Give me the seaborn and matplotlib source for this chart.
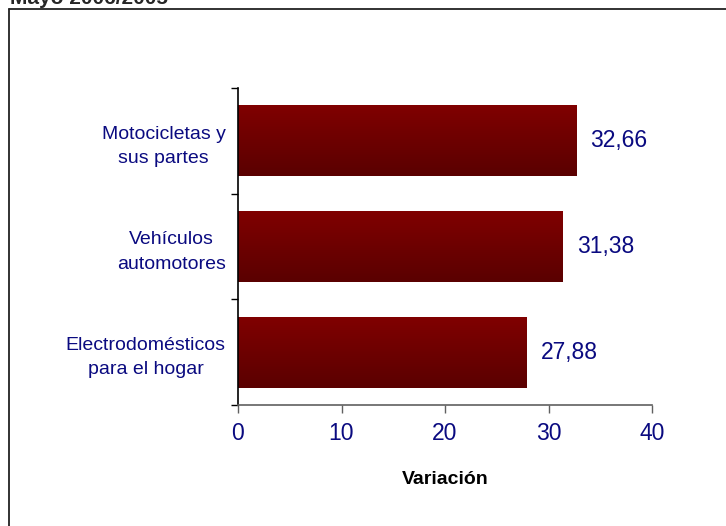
import numpy as np
import pandas as pd
import matplotlib
matplotlib.use("Agg")
import matplotlib.pyplot as plt
from matplotlib.lines import Line2D
import seaborn as sns

# Datos
categorias = ["Motocicletas y\nsus partes", "Vehículos\nautomotores", "Electrodomésticos\npara el hogar"]
variacion = [32.66, 31.38, 27.88]
x_ticks = [0, 10, 20, 30, 40]
titulo = "Mayo 2006/2005"

df = pd.DataFrame({"Categoria": categorias, "Variacion": variacion})

sns.set_style("white")
plt.rcParams["font.family"] = ["Liberation Sans", "DejaVu Sans"]

azul = "#0a0a80"

fig = plt.figure(figsize=(7.26, 5.26), dpi=100)
ax = fig.add_axes([238 / 726, 1 - 405 / 526, (652 - 238) / 726, (405 - 88) / 526])

sns.barplot(data=df, x="Variacion", y="Categoria", color="#800000", width=0.67,
            saturation=1, ax=ax)

# degradado en las barras
grad = np.linspace(0, 1, 256).reshape(-1, 1)
cmap = matplotlib.colors.LinearSegmentedColormap.from_list("rojo", ["#800000", "#5a0000"])
for p in ax.patches:
    x0, y0 = p.get_x(), p.get_y()
    w, h = p.get_width(), p.get_height()
    im = ax.imshow(grad, cmap=cmap, aspect="auto", extent=(x0, x0 + w, y0 + h, y0),
                   zorder=p.get_zorder() + 0.1)
    im.set_clip_path(p)

ax.set_xlim(0, 40)
ax.set_ylim(2.5, -0.5)
ax.set_xticks(x_ticks)
ax.set_xticklabels([str(t) for t in x_ticks])

etiquetas = [f"{v:.2f}".replace(".", ",") for v in variacion]
ax.bar_label(ax.containers[0], labels=etiquetas, padding=10, fontsize=16.5, color=azul)

ax.set_yticks([0, 1, 2])
ax.set_yticks([-0.5, 0.5, 1.5, 2.5], minor=True)
ax.tick_params(axis="y", which="major", length=0, pad=9, labelsize=14, labelcolor=azul)
ax.tick_params(axis="y", which="minor", left=True, length=5, width=1, color="black", direction="out")
ax.tick_params(axis="x", which="major", bottom=True, length=6, width=1, color="#606060",
               direction="out", pad=6, labelsize=16.5, labelcolor=azul)
for t in ax.get_yticklabels():
    t.set_multialignment("center")
    t.set_linespacing(1.55)

ax.set_xlabel("Variación", fontsize=14, fontweight="bold", color="black", labelpad=19)
ax.set_ylabel("")

for s in ["top", "right"]:
    ax.spines[s].set_visible(False)
ax.spines["left"].set_color("black")
ax.spines["left"].set_linewidth(1.2)
ax.spines["bottom"].set_color("#606060")
ax.spines["bottom"].set_linewidth(1.2)

# marco del gráfico
fig.add_artist(Line2D([9 / 726, 1], [1 - 9 / 526, 1 - 9 / 526], color="#222222", lw=1.3))
fig.add_artist(Line2D([9 / 726, 9 / 726], [0, 1 - 9 / 526], color="#222222", lw=1.3))

fig.text(10 / 726, 1 - 4.5 / 526, titulo, fontsize=15, fontweight="bold", va="baseline", ha="left")

fig.savefig("out.png", dpi=100)
